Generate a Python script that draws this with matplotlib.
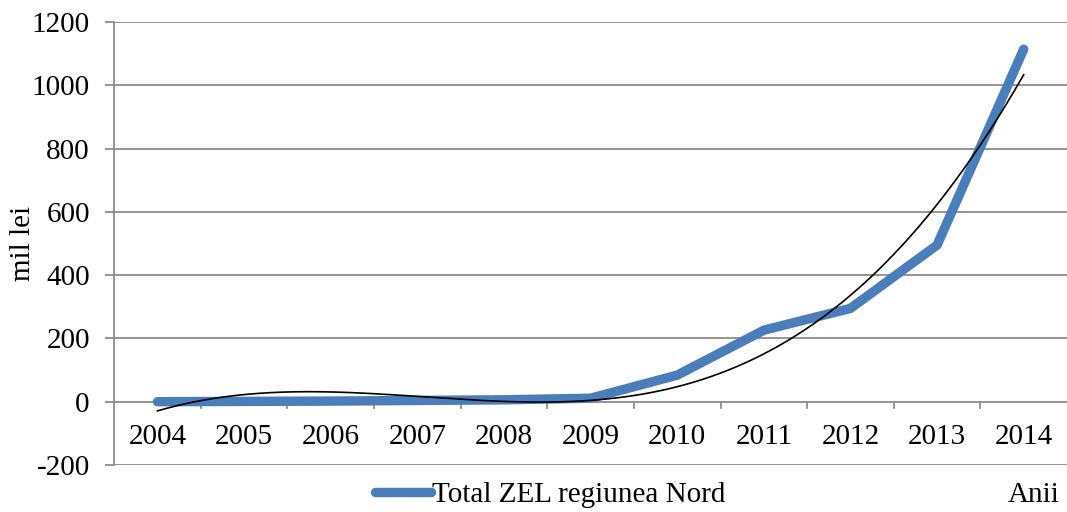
import numpy as np
import matplotlib
matplotlib.use("Agg")
import matplotlib.pyplot as plt
from matplotlib.lines import Line2D

years = ["2004", "2005", "2006", "2007", "2008", "2009", "2010", "2011", "2012", "2013", "2014"]
values = [0, 1, 2, 4, 6, 11, 84, 226, 295, 495, 1114]
yticks = [-200, 0, 200, 400, 600, 800, 1000, 1200]
series_label = "Total ZEL regiunea Nord"
ylabel = "mil lei"
xlabel = "Anii"

plt.rcParams['font.family'] = ['Liberation Serif', 'DejaVu Serif']
FS = 21
GRID = '#8c8c8c'
BLUE = '#4a7ebb'

fig = plt.figure(figsize=(10.67, 5.12), dpi=100)
ax = fig.add_axes([0.107, 0.0918, 0.893, 0.8652])

x = np.arange(len(years))
ax.set_xlim(-0.5, len(years) - 0.5)
ax.set_ylim(-200, 1200)

for yt in yticks:
    ax.axhline(yt, color=GRID, lw=1.3, zorder=1)

ax.plot(x, values, color=BLUE, lw=6.8, solid_capstyle='round', solid_joinstyle='miter', zorder=3)

coef = np.polyfit(x, values, 3)
xs = np.linspace(0, len(years) - 1, 300)
ax.plot(xs, np.polyval(coef, xs), color='black', lw=1.2, zorder=4)

for s in ['top', 'right', 'bottom']:
    ax.spines[s].set_visible(False)
ax.spines['left'].set_color(GRID)
ax.spines['left'].set_linewidth(1.3)

ax.set_yticks(yticks)
ax.set_yticklabels([str(v) for v in yticks], fontsize=FS)
ax.tick_params(axis='y', length=6.5, width=1.3, color=GRID, pad=11)

# category ticks between categories on the zero line
ax.set_xticks([])
for i in range(len(years) - 1):
    ax.plot([i + 0.5, i + 0.5], [0, -20], color=GRID, lw=1.3, zorder=2, clip_on=False)
for i, yr in enumerate(years):
    ax.text(i, -112, yr, ha='center', va='center', fontsize=FS)

ax.set_ylabel(ylabel, fontsize=FS, labelpad=-3)

handle = Line2D([0], [0], color=BLUE, lw=6.8, solid_capstyle='round')
fig.legend([handle], [series_label], loc='center', bbox_to_anchor=(0.516, 0.033),
           frameon=False, fontsize=FS, handlelength=1.9, handletextpad=0.05, borderaxespad=0)
fig.text(0.993, 0.033, xlabel, ha='right', va='center', fontsize=FS)

fig.savefig("out.png", dpi=100)
